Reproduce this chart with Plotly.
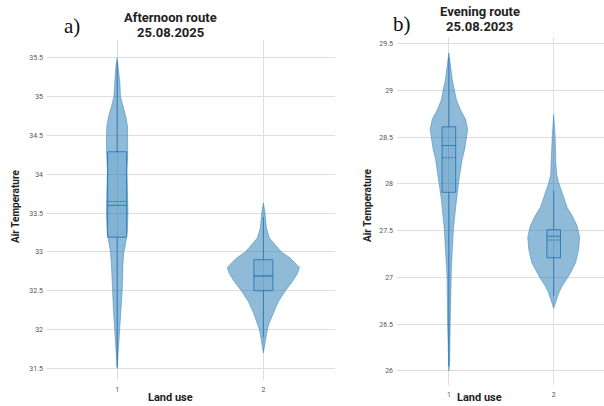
import plotly.graph_objects as go

# ---------------- data ----------------
categories = [1, 2]
tick_labels = ["1", "2"]

# Panel a) Afternoon route: violin density profiles (temperature level -> relative density)
a1_levels = [31.50, 31.74, 32.00, 32.24, 32.50, 32.85, 33.00, 33.07, 33.25, 33.50, 33.80,
             34.05, 34.25, 34.49, 34.62, 34.74, 34.86, 35.00, 35.18, 35.39, 35.50]
a1_density = [0.0, 1.5, 2.5, 3.7, 5.0, 5.8, 6.7, 8.0, 10.0, 10.8, 10.3,
              9.7, 10.5, 10.8, 10.3, 8.7, 6.0, 3.3, 2.7, 1.3, 0.0]
a2_levels = [31.70, 31.88, 32.00, 32.09, 32.22, 32.36, 32.50, 32.60, 32.72, 32.80,
             32.92, 33.00, 33.09, 33.18, 33.31, 33.50, 33.63]
a2_density = [0.0, 2.3, 4.0, 6.0, 10.0, 15.0, 22.0, 28.0, 34.0, 36.0,
              27.0, 18.0, 12.0, 6.0, 3.0, 1.7, 0.0]
# box statistics: q1, median, q3, lower whisker, upper whisker, mean
a_q1 = [33.19, 32.50]
a_median = [33.60, 32.69]
a_q3 = [34.29, 32.90]
a_low = [31.52, 31.90]
a_high = [35.45, 33.45]
a_mean = [33.65, 32.69]

# Panel b) Evening route
b1_levels = [26.00, 26.10, 26.50, 27.00, 27.10, 27.30, 27.51, 27.72, 27.83, 27.94, 28.04,
             28.15, 28.26, 28.37, 28.47, 28.58, 28.69, 28.79, 28.90, 29.00, 29.11, 29.40]
b1_density = [0.0, 0.8, 1.3, 1.8, 2.5, 3.5, 4.5, 6.5, 7.5, 8.8, 10.0,
              11.7, 13.3, 15.8, 17.5, 18.8, 16.7, 11.7, 7.5, 5.8, 3.5, 0.0]
b2_levels = [26.67, 26.83, 26.90, 27.00, 27.05, 27.16, 27.30, 27.43, 27.55, 27.65,
             27.75, 27.86, 28.01, 28.10, 28.25, 28.50, 28.74]
b2_density = [0.0, 5.0, 8.0, 14.0, 17.0, 22.0, 25.0, 26.0, 23.5, 19.0,
              13.3, 10.0, 5.0, 3.0, 2.0, 1.5, 0.0]
b_q1 = [27.91, 27.21]
b_median = [28.41, 27.44]
b_q3 = [28.61, 27.51]
b_low = [26.05, 26.80]
b_high = [29.35, 27.93]
b_mean = [28.28, 27.40]

# ---------------- styling ----------------
VIOLIN_FILL = "rgba(31,119,180,0.50)"
VIOLIN_LINE = "rgba(31,119,180,0.55)"
BOX_FILL = "rgba(31,119,180,0.12)"
BOX_LINE = "rgba(40,110,180,0.85)"
GRID = "#dedede"
FONT = "Roboto"

fig = go.Figure()


def add_violin(cat, levels, density, px_per_unit, xa, ya):
    # density values were read in pixels of half-width; convert to category units
    half = [d / px_per_unit for d in density]
    xs = [cat + h for h in half] + [cat - h for h in reversed(half)]
    ys = list(levels) + list(reversed(levels))
    fig.add_trace(go.Scatter(x=xs, y=ys, mode="lines", fill="toself",
                             fillcolor=VIOLIN_FILL, line=dict(color=VIOLIN_LINE, width=0.8),
                             xaxis=xa, yaxis=ya, hoverinfo="skip", showlegend=False))


def add_boxes(q1, med, q3, low, high, mean, xa, ya):
    fig.add_trace(go.Box(x=categories, q1=q1, median=med, q3=q3, lowerfence=low,
                         upperfence=high, mean=mean, boxmean=True, width=0.13,
                         whiskerwidth=0, fillcolor=BOX_FILL,
                         line=dict(color=BOX_LINE, width=1),
                         xaxis=xa, yaxis=ya, showlegend=False))


add_violin(1, a1_levels, a1_density, 146, "x", "y")
add_violin(2, a2_levels, a2_density, 146, "x", "y")
add_boxes(a_q1, a_median, a_q3, a_low, a_high, a_mean, "x", "y")

add_violin(1, b1_levels, b1_density, 105, "x2", "y2")
add_violin(2, b2_levels, b2_density, 105, "x2", "y2")
add_boxes(b_q1, b_median, b_q3, b_low, b_high, b_mean, "x2", "y2")

W, H = 604, 406

axis_common = dict(showgrid=True, gridcolor=GRID, gridwidth=1, zeroline=False,
                   showline=False, ticks="", tickfont=dict(family=FONT, size=7, color="#555"))

fig.update_layout(
    width=W, height=H, margin=dict(l=0, r=0, t=0, b=0),
    paper_bgcolor="white", plot_bgcolor="white", showlegend=False,
    xaxis=dict(domain=[47 / W, 335 / W], range=[0.52, 2.49], tickvals=categories,
               ticktext=tick_labels, anchor="y", ticklabelstandoff=4, **axis_common),
    yaxis=dict(domain=[1 - 380 / H, 1 - 40 / H], range=[31.35, 35.73],
               tickvals=[31.5, 32, 32.5, 33, 33.5, 34, 34.5, 35, 35.5],
               ticktext=["31.5", "32", "32.5", "33", "33.5", "34", "34.5", "35", "35.5"],
               anchor="x", ticklabelstandoff=3, **axis_common),
    xaxis2=dict(domain=[397 / W, 1.0], range=[0.505, 2.48], tickvals=categories,
                ticktext=tick_labels, anchor="y2", ticklabelstandoff=4, **axis_common),
    yaxis2=dict(domain=[1 - 385 / H, 1 - 37 / H], range=[25.85, 29.57],
                tickvals=[26, 26.5, 27, 27.5, 28, 28.5, 29, 29.5],
                ticktext=["26", "26.5", "27", "27.5", "28", "28.5", "29", "29.5"],
                anchor="x2", ticklabelstandoff=3, **axis_common),
)


def text(x, y, s, size, bold=True, family=FONT, angle=0, color="#222"):
    fig.add_annotation(x=x / W, y=1 - y / H, xref="paper", yref="paper", text=s,
                       showarrow=False, textangle=angle, xanchor="center", yanchor="middle",
                       font=dict(family=family, size=size, color=color))


text(170, 17, "<b>Afternoon route</b>", 13)
text(170, 32, "<b>25.08.2025</b>", 13)
text(480, 11, "<b>Evening route</b>", 13)
text(480, 27, "<b>25.08.2023</b>", 13)
text(72, 26, "a)", 21, family="Liberation Serif", color="#111")
text(402, 24, "b)", 21, family="Liberation Serif", color="#111")
text(15, 207, "<b>Air Temperature</b>", 10, angle=-90)
text(367, 206, "<b>Air Temperature</b>", 10, angle=-90)
text(170, 397, "<b>Land use</b>", 11)
text(480, 397, "<b>Land use</b>", 11)

fig.write_html("out.html", config={"displayModeBar": False},
               post_script="document.body.style.margin='0';document.body.style.overflow='hidden';")
